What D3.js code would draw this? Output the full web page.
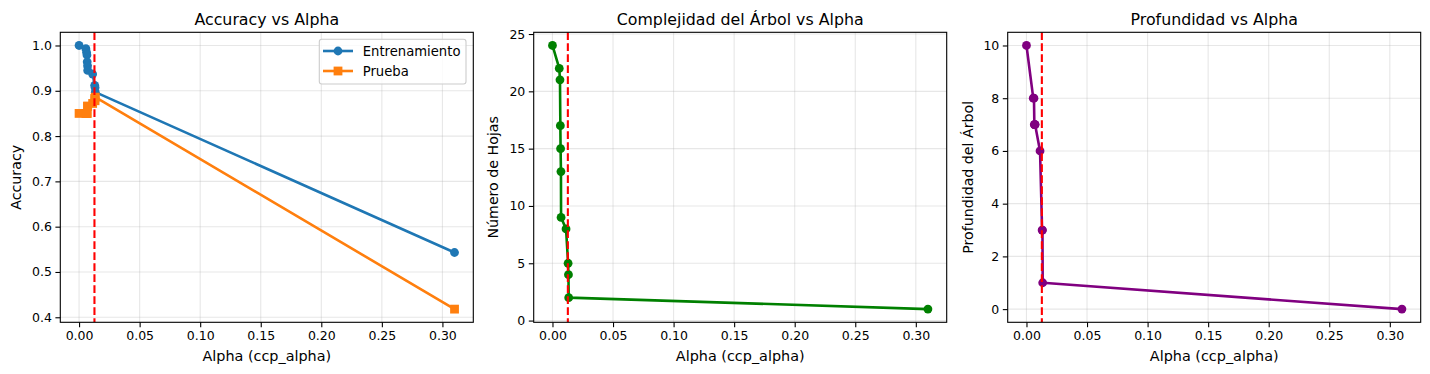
<!DOCTYPE html>
<html>
<head>
<meta charset="utf-8">
<script src="https://cdn.jsdelivr.net/npm/d3@7"></script>
<style>
  html, body { margin: 0; padding: 0; background: #fff; }
  svg { display: block; font-family: "DejaVu Sans", sans-serif; }
</style>
</head>
<body>
<svg id="chart" width="1430" height="374"></svg>
<script>
// ---- data ----
const alphas   = [0, 0.0056, 0.0062, 0.0065, 0.0067, 0.0070, 0.0071, 0.0112, 0.0129, 0.0132, 0.0134, 0.3100];
const trainAcc = [1.000, 0.993, 0.985, 0.979, 0.964, 0.955, 0.945, 0.937, 0.912, 0.907, 0.897, 0.543];
const testAcc  = [0.850, 0.850, 0.850, 0.850, 0.850, 0.866, 0.866, 0.872, 0.883, 0.878, 0.886, 0.418];
const leaves   = [24, 22, 21, 17, 15, 13, 9, 8, 5, 4, 2, 1];
const depth    = [10, 8, 8, 7, 7, 7, 7, 6, 3, 3, 1, 0];
const bestAlpha = 0.0127;

const xTicks = [0, 0.05, 0.10, 0.15, 0.20, 0.25, 0.30];
const accTicks = [0.4, 0.5, 0.6, 0.7, 0.8, 0.9, 1.0];
const leafTicks = [0, 5, 10, 15, 20, 25];
const depthTicks = [0, 2, 4, 6, 8, 10];

const titles = ["Accuracy vs Alpha", "Complejidad del Árbol vs Alpha", "Profundidad vs Alpha"];
const yLabels = ["Accuracy", "Número de Hojas", "Profundidad del Árbol"];
const xLabel = "Alpha (ccp_alpha)";
const legendLabels = ["Entrenamiento", "Prueba"];

// ---- layout ----
const svg = d3.select("#chart");
const plotTop = 32.3, plotBottom = 322.3;
const panelLefts = [60.3, 533.7, 1007.7];
const panelW = 413;

function margins(lo, hi) { const m = (hi - lo) * 0.05; return [lo - m, hi + m]; }

const xDomain = margins(d3.min(alphas), d3.max(alphas));

const panels = [
  { yDomain: margins(d3.min(testAcc), d3.max(trainAcc)), ticks: accTicks, fmt: d3.format(".1f"),
    series: [
      { values: trainAcc, color: "#1f77b4", marker: "circle" },
      { values: testAcc, color: "#ff7f0e", marker: "square" }
    ] },
  { yDomain: margins(d3.min(leaves), d3.max(leaves)), ticks: leafTicks, fmt: d3.format("d"),
    series: [ { values: leaves, color: "#008000", marker: "circle" } ] },
  { yDomain: margins(d3.min(depth), d3.max(depth)), ticks: depthTicks, fmt: d3.format("d"),
    series: [ { values: depth, color: "#800080", marker: "circle" } ] }
];

const ms = 8.8; // marker size px
const lw = 2.6;

panels.forEach((p, i) => {
  const left = panelLefts[i];
  const x = d3.scaleLinear().domain(xDomain).range([left, left + panelW]);
  const y = d3.scaleLinear().domain(p.yDomain).range([plotBottom, plotTop]);
  const g = svg.append("g");

  const clipId = "clip" + i;
  svg.append("clipPath").attr("id", clipId).append("rect")
    .attr("x", left).attr("y", plotTop).attr("width", panelW).attr("height", plotBottom - plotTop);

  // grid
  const grid = g.append("g").attr("stroke", "#b0b0b0").attr("stroke-opacity", 0.3).attr("stroke-width", 1.1);
  xTicks.forEach(t => grid.append("line").attr("x1", x(t)).attr("x2", x(t)).attr("y1", plotTop).attr("y2", plotBottom));
  p.ticks.forEach(t => grid.append("line").attr("x1", left).attr("x2", left + panelW).attr("y1", y(t)).attr("y2", y(t)));

  // series
  const plot = g.append("g").attr("clip-path", `url(#${clipId})`);
  p.series.forEach(s => {
    const line = d3.line().x((d, k) => x(alphas[k])).y(d => y(d));
    plot.append("path").datum(s.values).attr("d", line)
      .attr("fill", "none").attr("stroke", s.color).attr("stroke-width", lw).attr("stroke-linejoin", "round");
    if (s.marker === "circle") {
      plot.selectAll(null).data(s.values).enter().append("circle")
        .attr("cx", (d, k) => x(alphas[k])).attr("cy", d => y(d)).attr("r", ms / 2)
        .attr("fill", s.color);
    } else {
      plot.selectAll(null).data(s.values).enter().append("rect")
        .attr("x", (d, k) => x(alphas[k]) - ms / 2).attr("y", d => y(d) - ms / 2)
        .attr("width", ms).attr("height", ms).attr("fill", s.color);
    }
  });

  // best alpha line
  plot.append("line").attr("x1", x(bestAlpha)).attr("x2", x(bestAlpha)).attr("y1", plotTop).attr("y2", plotBottom)
    .attr("stroke", "#ff0000").attr("stroke-width", 2.1).attr("stroke-dasharray", "7.7,3.3");

  // axes
  const xAxis = d3.axisBottom(x).tickValues(xTicks).tickFormat(d3.format(".2f")).tickSize(4.9).tickPadding(3.5);
  const ax = g.append("g").attr("transform", `translate(0,${plotBottom})`).call(xAxis);
  const yAxis = d3.axisLeft(y).tickValues(p.ticks).tickFormat(p.fmt).tickSize(4.9).tickPadding(3.5);
  const ay = g.append("g").attr("transform", `translate(${left},0)`).call(yAxis);
  [ax, ay].forEach(a => {
    a.select(".domain").remove();
    a.selectAll("line").attr("stroke", "#000").attr("stroke-width", 1.1);
    a.selectAll("text").attr("font-size", 12.5).attr("fill", "#000").attr("font-family", "DejaVu Sans");
  });

  // frame
  g.append("rect").attr("x", left).attr("y", plotTop).attr("width", panelW).attr("height", plotBottom - plotTop)
    .attr("fill", "none").attr("stroke", "#000").attr("stroke-width", 1.1);

  // labels
  g.append("text").attr("x", left + panelW / 2).attr("y", 24.5).attr("text-anchor", "middle")
    .attr("font-size", 15.8).text(titles[i]);
  g.append("text").attr("x", left + panelW / 2).attr("y", 361).attr("text-anchor", "middle")
    .attr("font-size", 14.4).text(xLabel);
  const ylx = [16, 493, 968][i];
  g.append("text").attr("transform", `translate(${ylx + 5},${(plotTop + plotBottom) / 2}) rotate(-90)`)
    .attr("text-anchor", "middle").attr("font-size", 14.2).text(yLabels[i]);

  // legend
  if (i === 0) {
    const lg = g.append("g");
    lg.append("rect").attr("x", 319.3).attr("y", 39.3).attr("width", 146.7).attr("height", 44.7)
      .attr("rx", 2.5).attr("fill", "#fff").attr("fill-opacity", 0.8)
      .attr("stroke", "#cccccc").attr("stroke-width", 1.1);
    p.series.forEach((s, k) => {
      const yy = 51 + k * 20;
      lg.append("line").attr("x1", 323).attr("x2", 353).attr("y1", yy).attr("y2", yy)
        .attr("stroke", s.color).attr("stroke-width", lw);
      if (s.marker === "circle") {
        lg.append("circle").attr("cx", 338).attr("cy", yy).attr("r", ms / 2).attr("fill", s.color);
      } else {
        lg.append("rect").attr("x", 338 - ms / 2).attr("y", yy - ms / 2).attr("width", ms).attr("height", ms).attr("fill", s.color);
      }
      lg.append("text").attr("x", 362.7).attr("y", yy + 4.7).attr("font-size", 13.2).text(legendLabels[k]);
    });
  }
});
</script>
</body>
</html>
